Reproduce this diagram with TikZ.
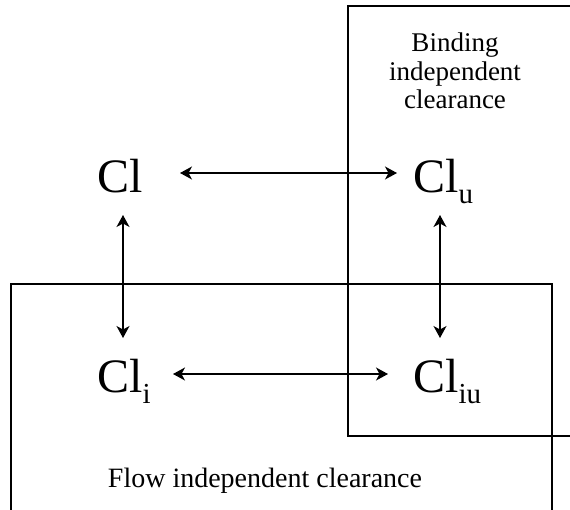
\documentclass[tikz,border=0pt]{standalone}
\usepackage{fontspec}
\setmainfont{Liberation Serif}
\usetikzlibrary{arrows.meta}
\tikzset{
  big/.style={inner sep=0pt, anchor=base west, font=\fontsize{48}{48}\selectfont},
  lbl/.style={inner sep=0pt, font=\fontsize{27}{28.5}\selectfont},
  arr/.style={line width=1.2pt, {Stealth[length=12pt,width=13pt,inset=3.5pt]}-{Stealth[length=12pt,width=13pt,inset=3.5pt]}},
  boxline/.style={line width=1.4pt}
}
\newcommand{\subx}[1]{\raisebox{-11pt}{\fontsize{29}{29}\selectfont #1}}
\begin{document}
\begin{tikzpicture}[x=1pt,y=-1pt]
\useasboundingbox (0,0) rectangle (570,509);
\fill[white] (0,0) rectangle (570,509);
% boxes
\draw[boxline] (572,6) -- (348,6) -- (348,436) -- (572,436);
\draw[boxline] (11,511) -- (11,284) -- (552,284) -- (552,511);
% labels
\node[lbl, anchor=north, align=center] (bind) at (455,33) {Binding\\independent\\clearance};
\node[lbl, anchor=base, font=\fontsize{28}{28}\selectfont] (flow) at (265,487) {Flow independent clearance};
% terms
\node[big] (cl) at (97,192) {Cl};
\node[big] (clu) at (413,192) {Cl\subx{u}};
\node[big] (cli) at (97,392) {Cl\subx{i}};
\node[big] (cliu) at (413,392) {Cl\subx{iu}};
% connectors
\draw[arr] ([xshift=83pt,yshift=19pt]cl.base west) -- ([xshift=-16pt,yshift=19pt]clu.base west);
\draw[arr] ([xshift=76pt,yshift=18pt]cli.base west) -- ([xshift=-25pt,yshift=18pt]cliu.base west);
\draw[arr] ([xshift=26pt,yshift=-23pt]cl.base west) -- ([xshift=26pt,yshift=54pt]cli.base west);
\draw[arr] ([xshift=27pt,yshift=-23pt]clu.base west) -- ([xshift=27pt,yshift=54pt]cliu.base west);
\end{tikzpicture}
\end{document}
